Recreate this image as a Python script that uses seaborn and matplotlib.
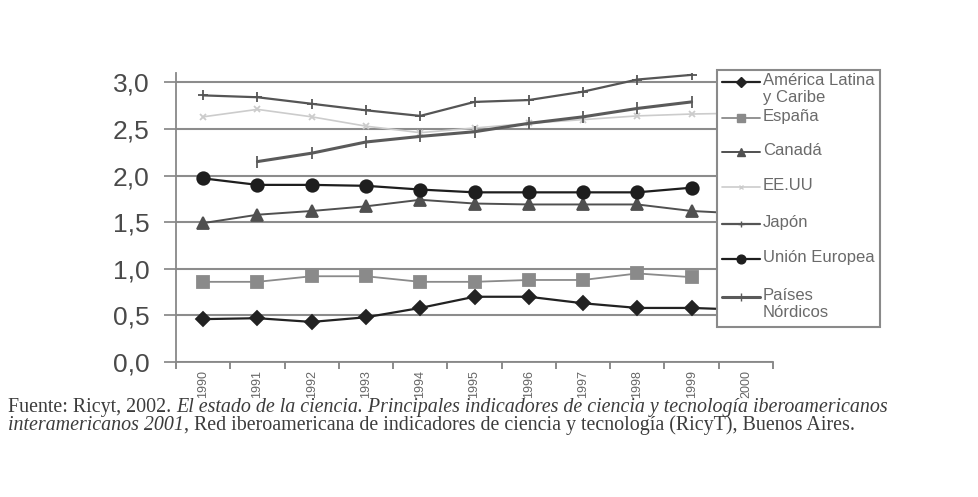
import numpy as np
import pandas as pd
import seaborn as sns
import matplotlib.pyplot as plt
from matplotlib.lines import Line2D
from matplotlib.patches import Rectangle
from matplotlib.ticker import FixedLocator, NullFormatter

nan = np.nan
years = list(range(1990, 2001))

america_latina = [0.46, 0.47, 0.43, 0.48, 0.58, 0.70, 0.70, 0.63, 0.58, 0.58, 0.56]
espana = [0.86, 0.86, 0.92, 0.92, 0.86, 0.86, 0.88, 0.88, 0.95, 0.91, nan]
canada = [1.49, 1.58, 1.62, 1.67, 1.74, 1.70, 1.69, 1.69, 1.69, 1.62, 1.59]
eeuu = [2.63, 2.71, 2.63, 2.53, 2.46, 2.51, 2.56, 2.60, 2.64, 2.66, 2.67]
japon = [2.86, 2.84, 2.77, 2.70, 2.64, 2.79, 2.81, 2.90, 3.03, 3.08, nan]
union_europea = [1.97, 1.90, 1.90, 1.89, 1.85, 1.82, 1.82, 1.82, 1.82, 1.87, nan]
nordicos = [nan, 2.15, 2.24, 2.36, 2.42, 2.47, 2.56, 2.63, 2.72, 2.79, nan]

labels = ["América Latina\ny Caribe", "España", "Canadá", "EE.UU", "Japón",
          "Unión Europea", "Países\nNórdicos"]
y_ticks = [0.0, 0.5, 1.0, 1.5, 2.0, 2.5, 3.0]
y_ticklabels = ["0,0", "0,5", "1,0", "1,5", "2,0", "2,5", "3,0"]

sns.set_style("white")
plt.rcParams['font.family'] = ['Liberation Sans', 'DejaVu Sans']

fig = plt.figure(figsize=(9.79, 4.97), dpi=100)
ax = fig.add_axes([0.1798, 0.2716, 0.6098, 0.5815])

# color, marker, markersize, linewidth
look = {
    "América Latina\ny Caribe": ("#222222", "D", 7, 1.6),
    "España": ("#8a8a8a", "s", 8, 1.3),
    "Canadá": ("#505050", "^", 8, 1.4),
    "EE.UU": ("#cccccc", "x", 4, 1.2),
    "Japón": ("#555555", "+", 7, 1.6),
    "Unión Europea": ("#1e1e1e", "o", 9, 1.6),
    "Países\nNórdicos": ("#5a5a5a", "|", 8, 2.2),
}
series = [america_latina, espana, canada, eeuu, japon, union_europea, nordicos]

for name, vals in zip(labels, series):
    c, m, ms, lw = look[name]
    df = pd.DataFrame({"year": years, "valor": vals}).dropna()
    sns.lineplot(data=df, x="year", y="valor", ax=ax, color=c, marker=m,
                 markersize=ms, linewidth=lw, markeredgecolor=c,
                 markerfacecolor=c, markeredgewidth=1.3, errorbar=None,
                 legend=False)

ax.set_xlim(1989.5, 2000.5)
ax.set_ylim(0, 3.1)
ax.set_xlabel("")
ax.set_ylabel("")

ax.set_yticks(y_ticks)
ax.set_yticklabels(y_ticklabels, fontsize=19, color="#4a4a4a")
ax.grid(axis="y", color="#8c8c8c", linewidth=1.5)
ax.set_axisbelow(True)

ax.xaxis.set_major_locator(FixedLocator([y - 0.5 for y in years] + [2000.5]))
ax.xaxis.set_major_formatter(NullFormatter())
ax.xaxis.set_minor_locator(FixedLocator(years))
ax.set_xticklabels([str(y) for y in years], minor=True, rotation=90,
                   fontsize=9, color="#666666")
ax.tick_params(axis="x", which="major", direction="out", length=5, width=1.2,
               color="#777777", bottom=True)
ax.tick_params(axis="x", which="minor", length=0, pad=6)
ax.tick_params(axis="y", direction="out", length=9, width=1.3,
               color="#8c8c8c", pad=10, left=True)

for side in ["top", "right"]:
    ax.spines[side].set_visible(False)
for side in ["left", "bottom"]:
    ax.spines[side].set_color("#888888")
    ax.spines[side].set_linewidth(1.3)

# legend box drawn by hand, overlapping the right part of the plot
W, H = 979.0, 497.0
fig.add_artist(Rectangle((717 / W, 1 - 327 / H), 163 / W, 257 / H,
                         transform=fig.transFigure, facecolor="white",
                         edgecolor="#8a8a8a", linewidth=1.5, zorder=5))
entry_y = [82, 118, 152, 187, 224, 259, 297]
for name, yp in zip(labels, entry_y):
    c, m, ms, lw = look[name]
    yf = 1 - yp / H
    fig.add_artist(Line2D([722 / W, 741 / W, 760 / W], [yf, yf, yf],
                          transform=fig.transFigure, color=c, linewidth=lw,
                          marker=m, markersize=ms * 0.7, markevery=[1],
                          markeredgecolor=c, markerfacecolor=c, zorder=6))
    fig.text(763 / W, yf + 9 / H, name, fontsize=12, color="#6a6a6a",
             va="top", ha="left", linespacing=1.15, zorder=7)

# source note
cap = dict(family=["Liberation Serif", "DejaVu Serif"], fontsize=14.4,
           color="#3c3c3c")
t1 = fig.text(8 / W, 1 - 412 / H, "Fuente: Ricyt, 2002. ", va="baseline", **cap)
ax.annotate("El estado de la ciencia. Principales indicadores de ciencia y "
            "tecnología iberoamericanos",
            xy=(1, 0), xycoords=t1, style="italic", va="bottom", **cap)
t3 = fig.text(8 / W, 1 - 430 / H, "interamericanos 2001", style="italic",
              va="baseline", **cap)
ax.annotate(", Red iberoamericana de indicadores de ciencia y tecnología "
            "(RicyT), Buenos Aires.",
            xy=(1, 0), xycoords=t3, va="bottom", **cap)

fig.savefig("out.png", dpi=100, facecolor="white")
